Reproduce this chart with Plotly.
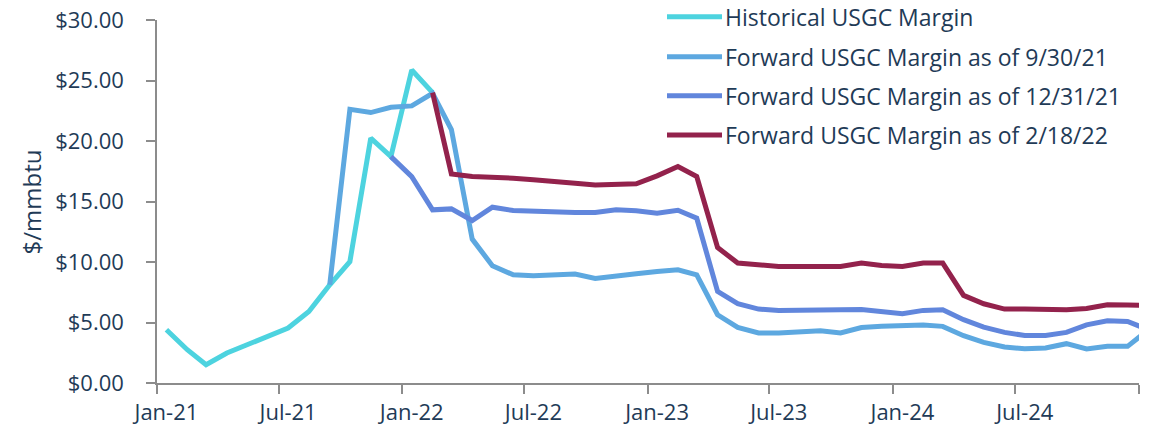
import pandas as pd
import plotly.graph_objects as go

# ---- data (monthly, mid-month points) ----
months = pd.date_range("2021-01-01", "2025-01-01", freq="MS") + pd.Timedelta(days=14)

hist_label = "Historical USGC Margin"
hist_values = [4.40, 2.75, 1.51, 2.48, 3.16, 3.85, 4.54, 5.91, 8.12, 10.04,
               20.23, 18.71, 25.87, 24.00]
hist_start = 0

fwd1_label = "Forward USGC Margin as of 9/30/21"
fwd1_values = [8.12, 22.62, 22.35, 22.79, 22.90, 23.94, 20.95, 11.89, 9.69, 8.94,
               8.86, 8.94, 9.00, 8.64, 8.89, 9.03, 9.22, 9.36, 8.94, 5.64,
               4.59, 4.13, 4.13, 4.24, 4.32, 4.13, 4.59, 4.68, 4.71, 4.79,
               4.68, 3.91, 3.36, 2.97, 2.83, 2.89, 3.25, 2.81, 3.03, 3.03, 4.40]
fwd1_start = 8

fwd2_label = "Forward USGC Margin as of 12/31/21"
fwd2_values = [18.71, 17.06, 14.31, 14.39, 13.43, 14.53, 14.25, 14.17, 14.09, 14.10,
               14.10, 14.31, 14.23, 14.04, 14.28, 13.62, 7.57, 6.55, 6.11, 6.00,
               6.02, 6.08, 6.05, 6.08, 5.91, 5.72, 6.00, 6.05, 5.23, 4.62,
               4.18, 3.93, 3.93, 4.18, 4.81, 5.14, 5.09, 4.40]
fwd2_start = 11

fwd3_label = "Forward USGC Margin as of 2/18/22"
fwd3_values = [24.00, 17.28, 17.06, 17.01, 16.93, 16.79, 16.70, 16.51, 16.37, 16.43,
               16.46, 17.12, 17.89, 17.06, 11.20, 9.91, 9.80, 9.63, 9.63, 9.63,
               9.63, 9.91, 9.71, 9.63, 9.91, 9.91, 7.24, 6.55, 6.11, 6.11,
               6.05, 6.05, 6.16, 6.47, 6.44, 6.42]
fwd3_start = 13

tick_dates = ["2021-01-15", "2021-07-15", "2022-01-15", "2022-07-15", "2023-01-15",
              "2023-07-15", "2024-01-15", "2024-07-15"]
tick_labels = ["Jan-21", "Jul-21", "Jan-22", "Jul-22", "Jan-23", "Jul-23", "Jan-24", "Jul-24"]
tickmark_dates = ["2021-01-01", "2021-07-01", "2022-01-01", "2022-07-01", "2023-01-01",
                  "2023-07-01", "2024-01-01", "2024-07-01", "2025-01-01"]

series = [
    (hist_label, hist_values, hist_start, "#4DD3DF"),
    (fwd1_label, fwd1_values, fwd1_start, "#5DA8E0"),
    (fwd2_label, fwd2_values, fwd2_start, "#6186DC"),
    (fwd3_label, fwd3_values, fwd3_start, "#93224C"),
]

TEXT = "#1F3B57"
AXIS = "#8C8C8C"
FONT = "Open Sans"

W, H = 1153, 433
ML, MR, MT, MB = 157, 14, 20, 50
PW, PH = W - ML - MR, H - MT - MB

fig = go.Figure()
for name, vals, start, color in series:
    x = months[start:start + len(vals)]
    fig.add_trace(go.Scatter(x=x, y=vals, mode="lines", name=name,
                             line=dict(color=color, width=5),
                             showlegend=False, hoverinfo="x+y"))

# custom legend (line samples + labels)
leg_x0, leg_x1, leg_tx = 667, 722, 723
leg_rows = [16.7, 56.7, 95.7, 135.0]
for (name, vals, start, color), yp in zip(series, leg_rows):
    yy = (H - MB - yp) / PH
    fig.add_shape(type="line", xref="paper", yref="paper",
                  x0=(leg_x0 - ML) / PW, x1=(leg_x1 - ML) / PW, y0=yy, y1=yy,
                  line=dict(color=color, width=5))
    fig.add_annotation(xref="paper", yref="paper", x=(leg_tx - ML) / PW, y=yy,
                       text=name, showarrow=False, xanchor="left", yanchor="middle",
                       font=dict(family=FONT, size=23, color=TEXT))

# y axis title
fig.add_annotation(xref="paper", yref="paper", x=(31 - ML) / PW, y=0.5,
                   text="$/mmbtu", textangle=-90, showarrow=False,
                   xanchor="center", yanchor="middle",
                   font=dict(family=FONT, size=24, color=TEXT))

fig.update_layout(
    width=W, height=H,
    margin=dict(l=ML, r=MR, t=MT, b=MB),
    paper_bgcolor="white", plot_bgcolor="white",
    font=dict(family=FONT, color=TEXT, size=22),
    xaxis=dict(
        type="date", range=["2021-01-01", "2025-01-01"], automargin=False,
        tickvals=tick_dates, ticktext=tick_labels,
        ticks="outside", ticklen=9, tickcolor="rgba(0,0,0,0)",
        showline=True, linecolor=AXIS, linewidth=1.5, showgrid=False, zeroline=False,
        tickfont=dict(family=FONT, size=22, color=TEXT),
        minor=dict(tickvals=tickmark_dates, ticks="outside", ticklen=9,
                   tickcolor=AXIS, tickwidth=1.5, showgrid=False),
    ),
    yaxis=dict(
        range=[0, 30], dtick=5, tickformat="$.2f", automargin=False,
        showline=True, linecolor=AXIS, linewidth=1.5, showgrid=False, zeroline=False,
        ticks="outside", ticklen=9, tickcolor=AXIS, tickwidth=1.5,
        ticklabelstandoff=18,
        tickfont=dict(family=FONT, size=22, color=TEXT),
    ),
)

fig.write_html("out.html", config={"displayModeBar": False},
               post_script="document.body.style.margin='0';document.body.style.overflow='hidden';")
